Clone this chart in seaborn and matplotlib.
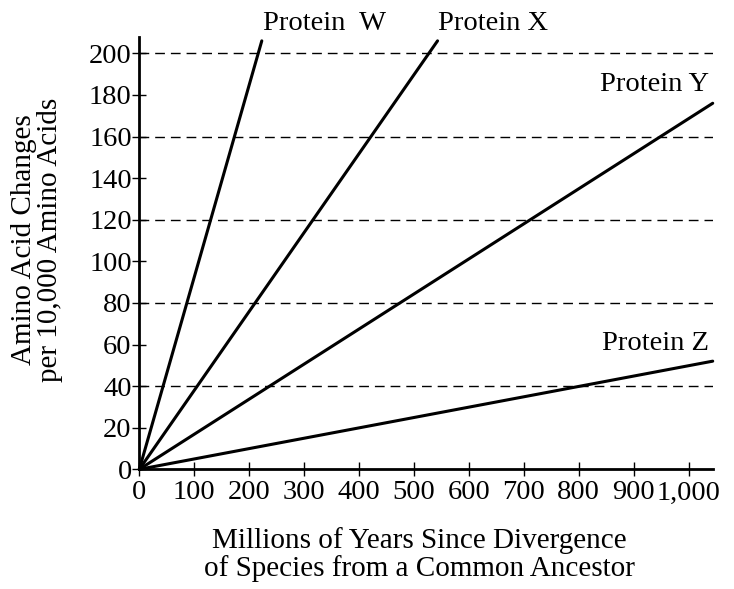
import matplotlib
matplotlib.use("Agg")
import matplotlib.pyplot as plt
import seaborn as sns
import pandas as pd

# Rates of amino acid change for four proteins (straight lines from the origin)
proteins = ["Protein  W", "Protein X", "Protein Y", "Protein Z"]
years_end = [223, 543, 1044, 1044]        # millions of years at line end
changes_end = [206, 206, 176, 52]         # amino acid changes at line end

x_ticks = [0, 100, 200, 300, 400, 500, 600, 700, 800, 900, 1000]
x_tick_labels = ["0", "100", "200", "300", "400", "500", "600", "700", "800", "900", "1,000"]
y_ticks = [0, 20, 40, 60, 80, 100, 120, 140, 160, 180, 200]
grid_levels = [40, 80, 120, 160, 200]

# label anchors (data coords) and alignment
label_x = [225, 543, 1037, 1038]
label_y = [211, 211, 182, 57.5]
label_ha = ["left", "left", "right", "right"]

rows = []
for p, xe, ye in zip(proteins, years_end, changes_end):
    rows.append({"protein": p, "years": 0, "changes": 0})
    rows.append({"protein": p, "years": xe, "changes": ye})
df = pd.DataFrame(rows)

sns.set_theme(style="ticks")
plt.rcParams["font.family"] = ["Liberation Serif", "DejaVu Serif"]
plt.rcParams["text.color"] = "black"
plt.rcParams["axes.labelcolor"] = "black"
plt.rcParams["xtick.color"] = "black"
plt.rcParams["ytick.color"] = "black"

fig = plt.figure(figsize=(7.34, 5.89), dpi=100)
ax = fig.add_axes([0.1898, 0.2032, 0.9710 - 0.1898, 0.9377 - 0.2032])

for lvl in grid_levels:
    ax.axhline(lvl, color="black", lw=1.0, ls=(0, (7, 4.3)), zorder=1)

sns.lineplot(data=df, x="years", y="changes", hue="protein",
             palette=["black"] * len(proteins), lw=2.2, legend=False,
             ax=ax, zorder=3, clip_on=False)

for name, lx, ly, ha in zip(proteins, label_x, label_y, label_ha):
    ax.text(lx, ly, name, ha=ha, va="baseline", fontsize=20.5, clip_on=False)

ax.set_xlim(0, 1044)
ax.set_ylim(0, 208)
ax.set_xticks(x_ticks)
ax.set_xticklabels(x_tick_labels)
ax.set_yticks(y_ticks)

ax.tick_params(axis="both", direction="inout", length=10, width=1.0,
               labelsize=20.5, colors="black")
ax.tick_params(axis="x", pad=3)
ax.tick_params(axis="y", pad=0.5)

for side in ["top", "right"]:
    ax.spines[side].set_visible(False)
for side in ["left", "bottom"]:
    ax.spines[side].set_linewidth(2.0)
    ax.spines[side].set_color("black")

ax.set_xlabel("Millions of Years Since Divergence\nof Species from a Common Ancestor",
              fontsize=21, linespacing=1.05)
ax.xaxis.set_label_coords(0.488, -0.198)
ax.xaxis.label.set_verticalalignment("center")

ax.set_ylabel("Amino Acid Changes\nper 10,000 Amino Acids",
              fontsize=21, linespacing=1.0)
ax.yaxis.set_label_coords(-0.178, 0.53)
ax.yaxis.label.set_verticalalignment("center")

fig.savefig("out.png", dpi=100, facecolor="white")
